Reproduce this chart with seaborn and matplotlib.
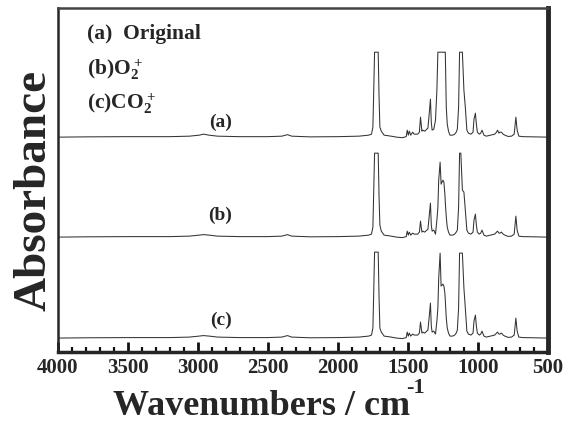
import matplotlib
matplotlib.use("Agg")
import matplotlib.pyplot as plt
import seaborn as sns
import numpy as np

# wavenumber grid (cm-1), shared by the three spectra
wavenumber = [
    4000, 3800, 3500, 3200, 3060, 2990, 2960, 2920, 2860, 2700,
    2500, 2400, 2360, 2330, 2200, 2000, 1850, 1780, 1760, 1750,
    1745, 1738, 1725, 1712, 1706, 1700, 1690, 1670, 1620, 1580,
    1540, 1512, 1505, 1497, 1490, 1480, 1466, 1455, 1430, 1418,
    1410, 1400, 1394, 1380, 1365, 1357, 1350, 1339, 1333, 1327,
    1315, 1303, 1293, 1286, 1280, 1270, 1263, 1250, 1243, 1236,
    1233, 1226, 1219, 1210, 1200, 1180, 1166, 1155, 1147, 1138,
    1131, 1122, 1111, 1100, 1090, 1079, 1068, 1050, 1035, 1028,
    1018, 1011, 1004, 990, 980, 971, 957, 940, 910, 880,
    867, 860, 850, 843, 832, 820, 808, 784, 760, 741,
    729, 720, 708, 680, 600, 500,
]

# absorbance (arbitrary units, 85 = saturated peak)
abs_original = [
    0, 0.3, 0.5, 0.5, 1, 2, 3, 2, 1, 0.5,
    0.5, 1, 2.5, 1, 0.3, 0.5, 1, 2, 3, 10,
    40, 85, 85, 85, 40, 10, 6, 2, 1, 0,
    -0.5, 0.5, 7, 2, 6, 2, 5, 3, 3, 5,
    20, 6, 7, 6, 8, 9, 20, 38, 15, 7,
    8, 17, 47, 85, 85, 85, 85, 85, 85, 85,
    85, 30, 13, 6, 2, 2, 3, 5, 8, 30,
    85, 85, 85, 47, 30, 7, 4, 3, 5, 18,
    24, 13, 5, 3, 4, 7, 2, 1, 2, 3,
    5, 7, 4, 5, 5, 3, 2, 0.7, 1, 3,
    20, 7, 1, 0.5, 0.3, 0,
]

abs_o2 = [
    0, 0.3, 0.5, 0.5, 1, 2, 2.5, 2, 1, 0.5,
    0.5, 1, 2.5, 1, 0.3, 0.5, 1, 2, 3, 10,
    40, 84, 84, 84, 40, 12, 6, 2, 1, 0,
    -0.5, 0.5, 6, 2, 5, 2, 4, 3, 3, 5,
    16, 5, 6, 5, 7, 8, 18, 34, 12, 6,
    7, 3, 17, 30, 57, 75, 53, 57, 55, 43,
    35, 20, 10, 5, 2, 2, 3, 5, 7, 30,
    84, 84, 47, 45, 27, 7, 4, 3, 5, 17,
    23, 12, 5, 3, 4, 7, 2, 1, 2, 3,
    5, 6, 4, 4, 5, 3, 2, 0.7, 1, 3,
    21, 7, 1, 0.5, 0.3, 0,
]

abs_co2 = [
    0, 0.3, 0.5, 0.5, 1, 2, 2.5, 2, 1, 0.5,
    0.5, 1, 2.5, 1, 0.3, 0.5, 1, 2, 3, 10,
    40, 86, 86, 86, 40, 10, 6, 2, 1, 0,
    -0.5, 0.5, 6, 2, 5, 2, 4, 3, 3, 5,
    16, 5, 6, 5, 7, 8, 18, 35, 12, 6,
    7, 4, 17, 30, 60, 85, 52, 54, 52, 45,
    38, 20, 10, 5, 2, 2, 3, 5, 8, 30,
    85, 85, 85, 50, 30, 7, 4, 3, 5, 17,
    23, 12, 5, 3, 4, 7, 2, 1, 2, 3,
    5, 6, 4, 4, 5, 3, 2, 0.7, 1, 3,
    20, 7, 1, 0.5, 0.3, 0,
]

labels = ["(a)", "(b)", "(c)"]
legend_lines = ["(a)  Original", r"(b)O$_2^+$", r"(c)CO$_2^+$"]

sns.set_theme(style="ticks")
plt.rcParams["font.family"] = ["Liberation Serif", "DejaVu Serif"]
plt.rcParams["font.weight"] = "bold"
plt.rcParams["mathtext.default"] = "regular"

fig = plt.figure(figsize=(5.78, 4.32), dpi=100)
ax = fig.add_axes([0.100, 0.185, 0.848, 0.796])

offsets = [215, 115, 14]
spectra = [abs_original, abs_o2, abs_co2]
for vals, off in zip(spectra, offsets):
    y = np.array(vals) + off
    sns.lineplot(x=wavenumber, y=y, ax=ax, color="#333333", linewidth=0.75,
                 sort=False, estimator=None)

ax.set_xlim(4000, 500)
ax.set_ylim(0, 344)
ax.set_xticks(range(4000, 499, -500))
ax.set_xticks(range(4000, 499, -100), minor=True)
ax.set_yticks([])
ax.tick_params(axis="x", which="major", direction="in", length=7, width=2,
               labelsize=15, pad=4, color="#111")
ax.tick_params(axis="x", which="minor", direction="in", length=3.5, width=1.6,
               color="#111")
for lab in ax.get_xticklabels():
    lab.set_fontweight("bold")

ax.spines["left"].set_linewidth(1.8)
ax.spines["top"].set_linewidth(1.8)
ax.spines["top"].set_color("#444")
ax.spines["right"].set_linewidth(3.5)
ax.spines["bottom"].set_linewidth(2.5)
for s in ax.spines.values():
    s.set_visible(True)

# axis titles
fig.text(0.452, 0.060, "Wavenumbers / cm", ha="center", va="center",
         fontsize=26, fontweight="bold")
fig.text(0.702, 0.103, "-1", ha="left", va="center", fontsize=16,
         fontweight="bold")
fig.text(0.060, 0.56, "Absorbance", ha="center", va="center", rotation=90,
         fontsize=34, fontweight="bold")

# spectrum labels
for lab, ypos in zip(labels, [230, 137, 32]):
    ax.text(2838, ypos, lab, ha="center", va="center", fontsize=14,
            fontweight="bold")

# top-left key
for txt, yf in zip(legend_lines, [0.921, 0.838, 0.760]):
    fig.text(0.151, yf, txt, ha="left", va="center", fontsize=15.5,
             fontweight="bold")

fig.savefig("out.png", dpi=100)
